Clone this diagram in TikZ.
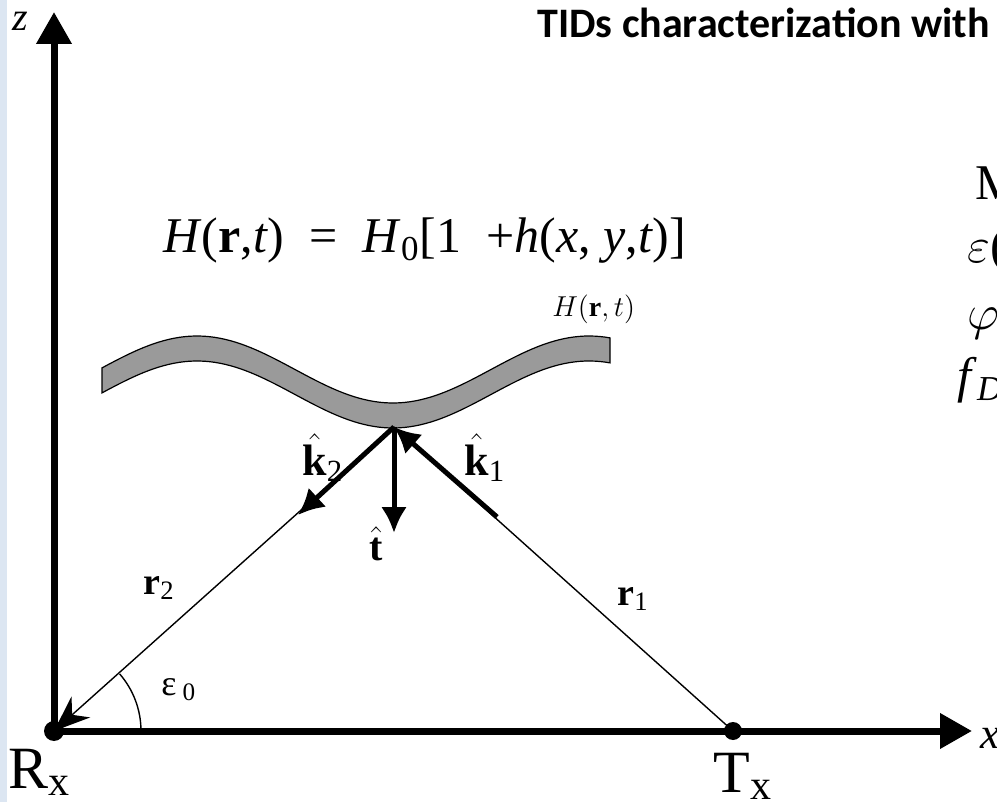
\documentclass[tikz,border=0pt]{standalone}
\usepackage{fontspec}
\setmainfont{Liberation Serif}
\newfontfamily\titlefont{Carlito}
\usetikzlibrary{arrows.meta}
\definecolor{stripblue}{HTML}{DCE6F2}
\definecolor{layergray}{HTML}{9A9A9A}
\newcommand{\fsz}[1]{\fontsize{#1}{#1}\selectfont}

\begin{document}
\begin{tikzpicture}[x=0.5pt, y=-0.5pt,
    axis/.style={line width=3.5pt, -{Triangle[length=16pt, width=17pt]}},
    ray/.style={line width=0.7pt},
    vec/.style={line width=2.5pt, -{Latex[length=13pt, width=13pt]}},
    lbl/.style={anchor=base west, inner sep=0pt}]
    \useasboundingbox (0,0) rectangle (997,802);
    \fill[stripblue] (0,0) rectangle (7,802);

    % points of the geometry
    \coordinate (rx) at (54,731);
    \coordinate (tx) at (733,731);
    \coordinate (p) at (394,427);
    \coordinate (zend) at (54,12);
    \coordinate (xend) at (972,731);
    \coordinate (k2end) at (298,515);
    \coordinate (k1start) at (497,517);
    \coordinate (tend) at (394,533);

    % layer
    \filldraw[fill=layergray, draw=black, line width=0.6pt]
        plot[domain=102:610, samples=100] (\x, {369.5-33.5*cos(0.9184*(\x-197))})
        -- plot[domain=610:102, samples=100] (\x, {394.5-33.5*cos(0.9184*(\x-197))}) -- cycle;

    \draw[axis] (rx) -- (zend);
    \draw[axis] (rx) -- (xend);

    \draw[ray] (tx) -- (p);
    \draw[ray, -{Stealth[length=18pt, width=14pt]}] (p) -- (rx);
    \draw[line width=0.7pt] ([xshift=43.5pt]rx) arc[start angle=0, end angle=41, radius=43.5pt];

    \draw[vec] (p) -- (k2end);
    \draw[vec] (k1start) -- (p);
    \draw[vec] (p) -- (tend);

    \fill (rx) circle[radius=5pt];
    \fill (tx) circle[radius=4.5pt];

    % texts
    \node[lbl, font=\titlefont\bfseries\fsz{21}] (title) at (537,38) {TIDs characterization with};
    \node[lbl, font=\fsz{20}] (zlab) at (12,31) {\textit{z}};
    \node[lbl, font=\fsz{22}] (xlab) at (980,748) {\textit{x}};
    \node[lbl, font=\fsz{25}] (eq) at (163,253) {\textit{H}(\textbf{r},\textit{t})\enspace=\enspace\textit{H}\textsubscript{0}[1\enspace+\textit{h}(\textit{x}, \textit{y},\textit{t})]};
    \node[lbl, font=\fsz{14}] (hlab) at (552,317) {$H(\mathbf{r},t)$};
    \node[lbl, font=\fsz{22}] (k2lab) at (302,475) {$\hat{\textbf{k}}$\textsubscript{2}};
    \node[lbl, font=\fsz{22}] (k1lab) at (464,475) {$\hat{\textbf{k}}$\textsubscript{1}};
    \node[lbl, font=\fsz{20}] (tlab) at (369,560) {$\hat{\textbf{t}}$};
    \node[lbl, font=\fsz{19}] (r2lab) at (143,594) {\textbf{r}\textsubscript{2}};
    \node[lbl, font=\fsz{19}] (r1lab) at (617,605) {\textbf{r}\textsubscript{1}};
    \node[lbl, font=\fsz{18}] (elab) at (161,695) {ε\,\textsubscript{0}};
    \node[lbl, font=\fsz{30}] (rxlab) at (8,788) {R\textsubscript{x}};
    \node[lbl, font=\fsz{30}] (txlab) at (713,792) {T\textsubscript{x}};

    \node[lbl, font=\fsz{25}] (m1) at (975,200) {M};
    \node[lbl, font=\fsz{25}] (m2) at (967,263) {$\varepsilon$(};
    \node[lbl, font=\fsz{25}] (m3) at (967,330) {$\varphi$};
    \node[lbl, font=\fsz{25}] (m4) at (957,393) {\textit{f}\textsubscript{\textit{D}}};
\end{tikzpicture}
\end{document}
